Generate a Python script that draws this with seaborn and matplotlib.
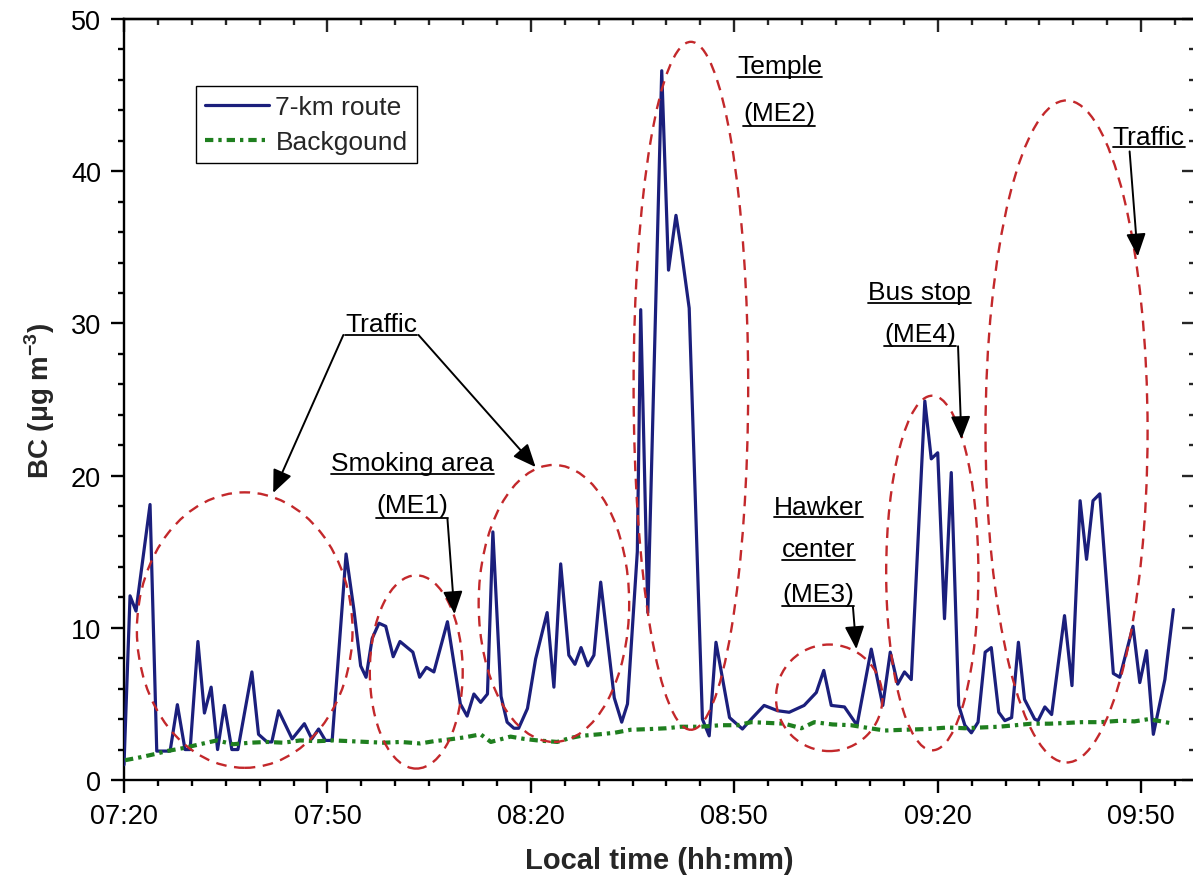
import numpy as np
import pandas as pd
import matplotlib
matplotlib.use("Agg")
import matplotlib.pyplot as plt
from matplotlib.patches import Ellipse
from matplotlib.ticker import MultipleLocator
import seaborn as sns

# ---------------- data (minutes after 07:20) ----------------
route_t = [0.0, 0.89, 1.77, 3.84, 4.83, 6.8, 7.87, 9.0, 9.75, 10.9, 11.86, 12.85, 13.8,
           14.8, 15.9, 16.8, 18.86, 19.84, 21.1, 21.8, 22.8, 24.8, 26.6, 27.7, 28.7,
           29.7, 30.7, 32.75, 33.9, 34.9, 35.7, 36.6, 37.6, 38.6, 39.7, 40.7, 42.6,
           43.6, 44.6, 45.7, 47.7, 49.6, 50.6, 51.6, 52.6, 53.6, 54.4, 55.6, 56.5,
           57.5, 58.2, 59.5, 60.7, 62.4, 63.4, 64.4, 65.6, 66.5, 67.4, 68.4, 69.3,
           70.3, 72.3, 73.4, 74.25, 75.7, 76.2, 77.25, 79.3, 80.3, 81.4, 82.1, 83.35,
           85.3, 86.3, 87.3, 89.3, 91.2, 92.5, 94.4, 96.4, 98.1, 100.3, 102.1, 103.2,
           104.3, 106.25, 108.1, 110.2, 111.9, 113.0, 114.1, 115.1, 116.1, 118.1,
           119.05, 120.0, 121.0, 122.0, 123.1, 124.0, 124.96, 125.95, 127.0, 127.9,
           129.0, 129.9, 130.9, 131.9, 132.8, 134.3, 134.8, 135.8, 136.8, 138.7,
           139.8, 141.0, 141.95, 142.9, 143.9, 145.9, 146.85, 148.8, 149.8, 150.8,
           151.8, 153.5, 154.75]
route_bc = [1.0, 12.1, 11.1, 18.1, 1.9, 1.9, 4.95, 2.0, 2.0, 9.1, 4.4, 6.1, 2.0,
            4.9, 2.0, 2.0, 7.1, 3.0, 2.5, 2.5, 4.55, 2.7, 3.7, 2.7, 3.35,
            2.6, 2.6, 14.85, 11.2, 7.5, 6.75, 9.3, 10.3, 10.1, 8.1, 9.1, 8.4,
            6.75, 7.4, 7.1, 10.4, 5.0, 4.2, 5.65, 5.1, 5.65, 16.3, 5.5, 3.8,
            3.4, 3.4, 4.7, 7.95, 11.0, 6.1, 14.2, 8.2, 7.6, 8.7, 7.5, 8.2,
            13.0, 5.4, 3.8, 5.0, 15.0, 30.9, 11.0, 46.6, 33.5, 37.1, 35.1, 31.0,
            4.0, 2.9, 9.05, 4.1, 3.35, 4.0, 4.9, 4.55, 4.45, 4.9, 5.75, 7.2,
            4.9, 4.8, 3.6, 8.6, 4.9, 8.4, 6.3, 7.1, 6.6, 24.9,
            21.1, 21.5, 10.6, 20.2, 4.9, 3.6, 3.1, 3.8, 8.4, 8.7,
            4.45, 3.9, 4.1, 9.05, 5.3, 4.0, 3.9, 4.8, 4.3, 10.8,
            6.2, 18.35, 14.5, 18.35, 18.8, 7.0, 6.75, 10.1, 6.4, 8.5,
            3.0, 6.6, 11.2]

bg_t = [0.15, 2.5, 4.5, 6.3, 8.8, 11.2, 13.7, 16.1, 18.6, 21.1, 23.5, 26.0, 28.5,
        30.9, 33.4, 35.85, 38.3, 40.8, 43.7, 45.7, 47.7, 50.2, 52.6, 54.1, 57.0,
        59.0, 61.0, 63.9, 65.7, 67.4, 70.0, 72.3, 74.7, 77.7, 80.0, 82.1, 85.0,
        88.0, 90.5, 92.5, 95.0, 97.4, 99.9, 101.8, 104.5, 107.2, 110.0, 112.2,
        115.0, 118.5, 121.5, 124.0, 126.4, 129.0, 131.5, 133.8, 136.5, 139.0,
        141.2, 144.0, 147.1, 149.0, 151.1, 153.0, 154.75]
bg_bc = [1.3, 1.5, 1.7, 1.9, 2.1, 2.35, 2.6, 2.35, 2.45, 2.5, 2.45, 2.6, 2.55,
         2.6, 2.55, 2.5, 2.45, 2.5, 2.4, 2.55, 2.65, 2.8, 3.0, 2.5, 2.85,
         2.7, 2.6, 2.5, 2.75, 2.9, 3.0, 3.1, 3.3, 3.35, 3.4, 3.5, 3.5,
         3.6, 3.6, 3.8, 3.75, 3.7, 3.4, 3.8, 3.65, 3.6, 3.4, 3.25,
         3.3, 3.35, 3.45, 3.4, 3.45, 3.5, 3.6, 3.7, 3.7, 3.75,
         3.8, 3.8, 3.9, 3.85, 4.0, 3.85, 3.7]

x_ticks = [0, 30, 60, 90, 120, 150]
x_tick_labels = ["07:20", "07:50", "08:20", "08:50", "09:20", "09:50"]
series_labels = ["7-km route", "Backgound"]

# hot-spot ellipses: (centre t, centre BC, width min, height BC)
ellipses = [(17.8, 9.85, 31.8, 18.1), (43.1, 7.1, 13.7, 12.7), (63.4, 11.6, 22.2, 18.2),
            (83.6, 25.9, 16.9, 45.2), (104.0, 5.4, 15.7, 7.0), (119.2, 13.6, 13.6, 23.3),
            (139.0, 22.9, 23.9, 43.5)]
# underlined labels: (text, centre t, baseline BC, underline BC)
labels = [("Traffic", 37.96, 29.5, 29.25), ("Smoking area", 42.5, 20.4, 20.1),
          ("(ME1)", 42.5, 17.6, 17.2), ("Temple", 96.7, 46.45, 46.2),
          ("(ME2)", 96.6, 43.35, 43.0), ("Hawker", 102.4, 17.5, 17.25),
          ("center", 102.4, 14.7, 14.45), ("(ME3)", 102.4, 11.75, 11.4),
          ("Bus stop", 117.35, 31.6, 31.35), ("(ME4)", 117.4, 28.85, 28.5),
          ("Traffic", 151.1, 41.8, 41.6)]
# arrows: (start t, start BC, end t, end BC)
arrows = [(32.35, 29.24, 22.0, 18.86), (43.43, 29.24, 60.7, 20.56),
          (47.7, 17.15, 48.74, 10.9), (107.5, 11.37, 108.0, 8.6),
          (123.0, 28.5, 123.5, 22.4), (148.3, 41.3, 149.5, 34.4)]

# ---------------- style ----------------
sns.set_style("ticks")
plt.rcParams["font.family"] = ["Liberation Sans", "DejaVu Sans"]
plt.rcParams["mathtext.fontset"] = "custom"
plt.rcParams["mathtext.rm"] = "Liberation Sans"
plt.rcParams["mathtext.bf"] = "Liberation Sans:bold"

FS = 19
fig = plt.figure(figsize=(11.93, 8.87), dpi=100)
ax = fig.add_axes([124 / 1193, 1 - 781 / 887, 1 - 124 / 1193 + 0.002, (781 - 20) / 887])

df_route = pd.DataFrame({"t": route_t, "bc": route_bc})
df_bg = pd.DataFrame({"t": bg_t, "bc": bg_bc})

sns.lineplot(data=df_route, x="t", y="bc", ax=ax, color="#1b1f7c", lw=2.3,
             estimator=None, sort=False, label=series_labels[0], zorder=3)
sns.lineplot(data=df_bg, x="t", y="bc", ax=ax, color="#1f7f1f", lw=3.0,
             linestyle=(0, (2.0, 1.2, 0.8, 1.2)), estimator=None, sort=False,
             label=series_labels[1], zorder=3)

for cx, cy, w, h in ellipses:
    ax.add_patch(Ellipse((cx, cy), w, h, fill=False, edgecolor="#c3282b", lw=1.7,
                         linestyle=(0, (4.5, 3.2)), zorder=4))

ax.set_xlim(0, 158)
ax.set_ylim(0, 50)
ax.set_xticks(x_ticks)
ax.set_xticklabels(x_tick_labels)
ax.xaxis.set_minor_locator(MultipleLocator(5))
ax.yaxis.set_major_locator(MultipleLocator(10))
ax.yaxis.set_minor_locator(MultipleLocator(2))
ax.tick_params(axis="both", which="major", direction="out", length=9.5, width=1.7,
               labelsize=19.5, color="black", labelcolor="black")
ax.tick_params(axis="both", which="minor", direction="out", length=4.5, width=1.7,
               color="black")
ax.tick_params(axis="x", pad=7)
ax.tick_params(axis="y", pad=7)
for s in ax.spines.values():
    s.set_visible(True)
    s.set_linewidth(1.7)
    s.set_color("black")

# mirrored inward ticks on top and right
secx = ax.secondary_xaxis("top")
secx.set_xticks(x_ticks)
secx.xaxis.set_minor_locator(MultipleLocator(5))
secx.tick_params(which="major", direction="in", length=9.5, width=1.7, labeltop=False)
secx.tick_params(which="minor", direction="in", length=4.5, width=1.7)
secx.spines["top"].set_linewidth(1.7)
secy = ax.secondary_yaxis("right")
secy.yaxis.set_major_locator(MultipleLocator(10))
secy.yaxis.set_minor_locator(MultipleLocator(2))
secy.tick_params(which="major", direction="in", length=9.5, width=1.7, labelright=False)
secy.tick_params(which="minor", direction="in", length=4.5, width=1.7)

ax.set_xlabel("Local time (hh:mm)", fontsize=21, fontweight="bold", labelpad=12)
ax.set_ylabel(r"BC (μg m$^{\mathbf{-3}}$)", fontsize=20, fontweight="bold", labelpad=10)

leg = ax.legend(loc="upper left", bbox_to_anchor=(0.0674, 0.912), borderaxespad=0,
                fontsize=FS, frameon=True, fancybox=False, framealpha=1,
                edgecolor="black", handlelength=2.4, handletextpad=0.25,
                labelspacing=0.4, borderpad=0.35)
leg.get_frame().set_linewidth(1.0)

texts = []
for s, tx, ty, uy in labels:
    t = ax.text(tx, ty, s, fontsize=FS, ha="center", va="baseline", color="black", zorder=5)
    texts.append((t, uy))

for x0, y0, x1, y1 in arrows:
    ax.annotate("", xy=(x1, y1), xytext=(x0, y0),
                arrowprops=dict(arrowstyle="-|>,head_length=0.7,head_width=0.3",
                                color="black", lw=1.4, shrinkA=0, shrinkB=0,
                                mutation_scale=20), zorder=5)

fig.canvas.draw()
r = fig.canvas.get_renderer()
inv = ax.transData.inverted()
for t, uy in texts:
    bb = t.get_window_extent(r)
    xa = inv.transform((bb.x0, 0))[0]
    xb = inv.transform((bb.x1, 0))[0]
    ax.plot([xa, xb], [uy, uy], color="black", lw=1.3, zorder=5)

fig.savefig("out.png", dpi=100)
